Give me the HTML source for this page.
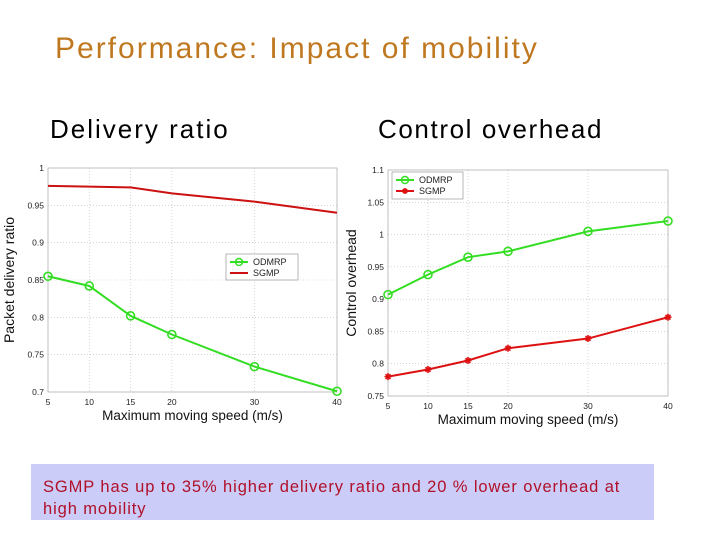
<!DOCTYPE html>
<html><head><meta charset="utf-8"><style>
body{margin:0;width:720px;height:540px;background:#fff;overflow:hidden;position:relative;font-family:"Liberation Sans",sans-serif}
.t{position:absolute;white-space:nowrap}
</style></head><body>
<div class="t" style="left:55px;top:32px;font-size:30px;letter-spacing:2px;color:#c07820">Performance: Impact of mobility</div>
<div class="t" style="left:50px;top:114px;font-size:26px;letter-spacing:2px;color:#000">Delivery ratio</div>
<div class="t" style="left:378px;top:114px;font-size:26px;letter-spacing:1.6px;color:#000">Control overhead</div>
<svg id="chart" width="720" height="540" style="position:absolute;left:0;top:0"></svg>
<div style="position:absolute;left:31px;top:464px;width:623px;height:56px;background:#ccccf8;"></div>
<div class="t" style="left:43px;top:476px;font-size:16.5px;line-height:22px;color:#b01028;letter-spacing:0.9px">SGMP has up to 35% higher delivery ratio and 20 % lower overhead at<br>high mobility</div>
<script>
const speeds=[5,10,15,20,30,40];
const xTicks=[5,10,15,20,30,40];
const drSGMP=[0.976,0.975,0.974,0.966,0.955,0.940];
const drODMRP=[0.855,0.842,0.802,0.777,0.734,0.701];
const drTicks=[0.7,0.75,0.8,0.85,0.9,0.95,1];
const drTickLabels=["0.7","0.75","0.8","0.85","0.9","0.95","1"];
const coODMRP=[0.907,0.938,0.965,0.974,1.005,1.021];
const coSGMP=[0.780,0.791,0.805,0.824,0.839,0.872];
const coTicks=[0.75,0.8,0.85,0.9,0.95,1,1.05,1.1];
const coTickLabels=["0.75","0.8","0.85","0.9","0.95","1","1.05","1.1"];
const NS="http://www.w3.org/2000/svg";
const svg=document.getElementById('chart');
function mk(tag,at,parent){const e=document.createElementNS(NS,tag);for(const k in at)e.setAttribute(k,at[k]);(parent||svg).appendChild(e);return e;}
function star(x,y,r,color,parent){
  const d=`M${x-r},${y}L${x+r},${y}M${x},${y-r}L${x},${y+r}M${x-r*0.7},${y-r*0.7}L${x+r*0.7},${y+r*0.7}M${x-r*0.7},${y+r*0.7}L${x+r*0.7},${y-r*0.7}`;
  return mk('path',{d:d,stroke:color,'stroke-width':1.6,fill:'none'},parent);
}
function plot(cfg){
  const g=mk('g',{});
  
  
  const sx=v=>cfg.x0+(v-5)/(35)*(cfg.x1-cfg.x0);
  const sy=v=>cfg.y1-(v-cfg.ymin)/(cfg.ymax-cfg.ymin)*(cfg.y1-cfg.y0);
  mk('rect',{x:cfg.x0,y:cfg.y0,width:cfg.x1-cfg.x0,height:cfg.y1-cfg.y0,fill:'#fff',stroke:'#999','stroke-width':0.6},g);
  cfg.yt.forEach((v,i)=>{
    const y=sy(v);
    const gl=mk('line',{x1:cfg.x0,x2:cfg.x1,y1:y,y2:y,stroke:'#bbb','stroke-width':0.6,'stroke-dasharray':'1,2'},g);
    
    
    const t=mk('text',{x:cfg.x0-4,y:y+3,'font-size':8.5,'text-anchor':'end',fill:'#222'},g);
    t.textContent=cfg.yl[i];
    
    
  });
  xTicks.forEach(v=>{
    const x=sx(v);
    const gl=mk('line',{x1:x,x2:x,y1:cfg.y0,y2:cfg.y1,stroke:'#bbb','stroke-width':0.6,'stroke-dasharray':'1,2'},g);
    
    
    const t=mk('text',{x:x,y:cfg.y1+13,'font-size':8.5,'text-anchor':'middle',fill:'#222'},g);
    t.textContent=v;
    
    
  });
  const xl=mk('text',{x:(cfg.x0+cfg.x1)/2,y:cfg.y1+28,'font-size':13.5,'text-anchor':'middle',fill:'#111'},g);
  xl.textContent='Maximum moving speed (m/s)';
  
  
  const yl=mk('text',{x:0,y:0,'font-size':14,'text-anchor':'middle',fill:'#111',transform:`translate(${cfg.x0-cfg.ylOff},${(cfg.y0+cfg.y1)/2}) rotate(-90)`},g);
  yl.textContent=cfg.ytitle;
  
  
  cfg.series.forEach(s=>{
    const pts=speeds.map((v,i)=>sx(v)+','+sy(s.vals[i])).join(' ');
    const pl=mk('polyline',{points:pts,fill:'none',stroke:s.color,'stroke-width':2},g);
    
    
    if(s.marker==='o')speeds.forEach((v,i)=>{const c=mk('circle',{cx:sx(v),cy:sy(s.vals[i]),r:4,fill:'none',stroke:s.color,'stroke-width':1.6},g);});
    if(s.marker==='*')speeds.forEach((v,i)=>{const p=star(sx(v),sy(s.vals[i]),3.5,s.color,g);});
  });
  const L=cfg.legend;
  const lg=mk('g',{},g);
  
  
  mk('rect',{x:L.x,y:L.y,width:L.w,height:L.h,fill:'#fff',stroke:'#888','stroke-width':0.6},lg);
  cfg.series.forEach((s,i)=>{
    const y=L.y+8+i*11;
    mk('line',{x1:L.x+4,x2:L.x+22,y1:y,y2:y,stroke:s.color,'stroke-width':2},lg);
    if(s.marker==='o')mk('circle',{cx:L.x+13,cy:y,r:3.5,fill:'none',stroke:s.color,'stroke-width':1.5},lg);
    if(s.marker==='*')star(L.x+13,y,3,s.color,lg);
    const t=mk('text',{x:L.x+27,y:y+3,'font-size':9,fill:'#222'},lg);
    t.textContent=s.label;
    
    
  });
}
plot({name:'delivery-ratio-chart',x0:48,x1:337,y0:168,y1:392,ymin:0.7,ymax:1,yt:drTicks,yl:drTickLabels,ytitle:'Packet delivery ratio',ylOff:34,
  series:[{name:'odmrp',label:'ODMRP',vals:drODMRP,color:'#33dd22',marker:'o'},{name:'sgmp',label:'SGMP',vals:drSGMP,color:'#cc1111',marker:''}],
  legend:{x:226,y:254,w:72,h:26}});
plot({name:'control-overhead-chart',x0:388,x1:668,y0:170,y1:396,ymin:0.75,ymax:1.1,yt:coTicks,yl:coTickLabels,ytitle:'Control overhead',ylOff:32,
  series:[{name:'odmrp',label:'ODMRP',vals:coODMRP,color:'#33dd22',marker:'o'},{name:'sgmp',label:'SGMP',vals:coSGMP,color:'#dd1111',marker:'*'}],
  legend:{x:392,y:172,w:71,h:27}});
</script>
</body></html>
